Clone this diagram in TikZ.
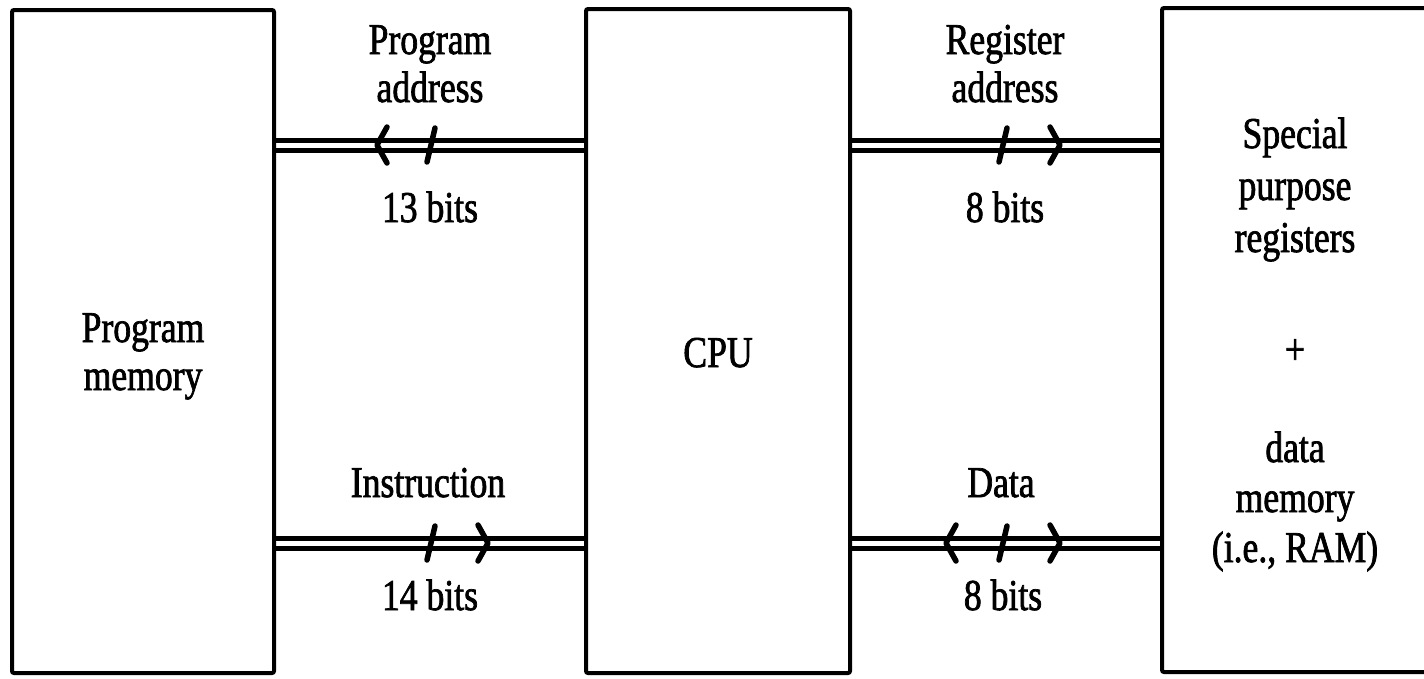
\documentclass[tikz,border=0pt]{standalone}
\usepackage{fontspec}
\setmainfont{Liberation Serif}[FakeStretch=0.81,FakeBold=1.6]
\begin{document}
\begin{tikzpicture}[x=1pt,y=-1pt,
  box/.style={draw, line width=4pt, rounded corners=2pt, inner sep=0pt},
  lbl/.style={anchor=base, inner sep=0pt, font=\fontsize{44}{50}\selectfont},
  busline/.style={line width=5pt},
  tick/.style={line width=5.5pt, line cap=round, line join=round},
  larr/.pic={\draw[tick] (10,-18) -- (0,0) -- (10,18);},
  rarr/.pic={\draw[tick] (-10,-18) -- (0,0) -- (-10,18);},
  slsh/.pic={\draw[tick] (-4,17) -- (4,-17);}]
\useasboundingbox (0,0) rectangle (1424,678);
% boxes
\node[box, minimum width=262pt, minimum height=663pt] (pm) at (143,341.5) {};
\node[box, minimum width=264pt, minimum height=664pt] (cpu) at (718,341) {};
\node[box, minimum width=266pt, minimum height=664pt] (ram) at (1295,340) {};
% box texts
\node[lbl] (pm1) at (143,342) {Program};
\node[lbl] (pm2) at (143,390) {memory};
\node[lbl] (cpuT) at (718,367) {CPU};
\node[lbl] (r1) at (1295,148) {Special};
\node[lbl] (r2) at (1295,200) {purpose};
\node[lbl] (r3) at (1295,252) {registers};
\node[lbl] (r4) at (1295,364) {+};
\node[lbl] (r5) at (1295,462) {data};
\node[lbl] (r6) at (1295,512) {memory};
\node[lbl] (r7) at (1295,562) {(i.e., RAM)};
% bus levels (two rails each)
\coordinate (ya1) at (0,140);
\coordinate (ya2) at (0,150.5);
\coordinate (yb1) at (0,538);
\coordinate (yb2) at (0,548.5);
% buses
\draw[busline] (pm.east |- ya1) -- (cpu.west |- ya1);
\draw[busline] (pm.east |- ya2) -- (cpu.west |- ya2);
\draw[busline] (pm.east |- yb1) -- (cpu.west |- yb1);
\draw[busline] (pm.east |- yb2) -- (cpu.west |- yb2);
\draw[busline] (cpu.east |- ya1) -- (ram.west |- ya1);
\draw[busline] (cpu.east |- ya2) -- (ram.west |- ya2);
\draw[busline] (cpu.east |- yb1) -- (ram.west |- yb1);
\draw[busline] (cpu.east |- yb2) -- (ram.west |- yb2);
% bus marks
\pic at (377,145) {larr};
\pic at (431,145) {slsh};
\pic at (1003,145) {slsh};
\pic at (1060,145) {rarr};
\pic at (431,543) {slsh};
\pic at (488,543) {rarr};
\pic at (946,543) {larr};
\pic at (1003,543) {slsh};
\pic at (1060,543) {rarr};
% bus labels
\node[lbl] (pa1) at (430,54) {Program};
\node[lbl] (pa2) at (430,102) {address};
\node[lbl] (pa3) at (430,222) {13 bits};
\node[lbl] (ra1) at (1005,54) {Register};
\node[lbl] (ra2) at (1005,102) {address};
\node[lbl] (ra3) at (1005,222) {8 bits};
\node[lbl] (in1) at (428,497) {Instruction};
\node[lbl] (in2) at (430,610) {14 bits};
\node[lbl] (da1) at (1001,497) {Data};
\node[lbl] (da2) at (1003,610) {8 bits};
\end{tikzpicture}
\end{document}
